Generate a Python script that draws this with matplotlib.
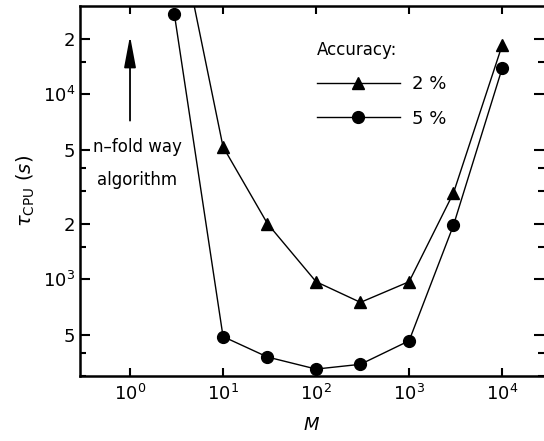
import matplotlib
matplotlib.use("Agg")
import matplotlib.pyplot as plt
from matplotlib.ticker import FixedLocator, FixedFormatter, NullFormatter

# data
M_2 = [3, 10, 30, 100, 300, 1000, 3000, 10000]
tau_2 = [1.0e5, 5200, 2000, 970, 750, 970, 2930, 18400]
M_5 = [3, 10, 30, 100, 300, 1000, 3000, 10000]
tau_5 = [27000, 490, 380, 327, 347, 465, 1960, 13800]

xticks = [1, 10, 100, 1000, 10000]
xlabels = ["$10^{0}$", "$10^{1}$", "$10^{2}$", "$10^{3}$", "$10^{4}$"]
yticks = [500, 1000, 2000, 5000, 10000, 20000]
ylabels = ["5", "$10^{3}$", "2", "5", "$10^{4}$", "2"]
yminor = [300, 400, 1500, 3000, 4000, 15000]

plt.rcParams["font.family"] = "DejaVu Sans"
plt.rcParams["mathtext.fontset"] = "dejavusans"
plt.rcParams["mathtext.default"] = "regular"

fig = plt.figure(figsize=(5.44, 4.41), dpi=100)
ax = fig.add_axes([80 / 544, 65 / 441, 464 / 544, 370 / 441])

ax.plot(M_2, tau_2, "k-", marker="^", ms=8.5, lw=1.0, label="2 %")
ax.plot(M_5, tau_5, "k-", marker="o", ms=8.5, lw=1.0, label="5 %")

ax.set_xscale("log")
ax.set_yscale("log")
ax.set_xlim(0.29, 10 ** 4.45)
ax.set_ylim(300, 30000)

ax.xaxis.set_major_locator(FixedLocator(xticks))
ax.xaxis.set_major_formatter(FixedFormatter(xlabels))
ax.xaxis.set_minor_locator(FixedLocator([]))
ax.yaxis.set_major_locator(FixedLocator(yticks))
ax.yaxis.set_major_formatter(FixedFormatter(ylabels))
ax.yaxis.set_minor_locator(FixedLocator(yminor))
ax.yaxis.set_minor_formatter(NullFormatter())

ax.tick_params(which="both", direction="in", top=True, right=True, labelsize=13, width=1.5)
ax.tick_params(axis="y", which="major", length=7)
ax.tick_params(axis="y", which="minor", length=4)
ax.tick_params(axis="x", which="major", length=6, pad=6)
for s in ["left", "bottom", "top"]:
    ax.spines[s].set_linewidth(1.8)
ax.spines["right"].set_visible(False)

ax.set_xlabel("$\\mathit{M}$", fontsize=13, labelpad=8)
ax.set_ylabel("$\\mathit{\\tau}_{\\rm CPU}\\ (\\mathit{s})$", fontsize=14, labelpad=4)

# arrow for the n-fold way algorithm
ax.annotate("", xy=(1, 21400), xytext=(1, 6960),
            arrowprops=dict(arrowstyle="-|>,head_length=1.6,head_width=0.3",
                            color="k", lw=1.3, mutation_scale=12))
ax.text(1.19, 5170, "n–fold way", ha="center", va="center", fontsize=12)
ax.text(1.19, 3430, "algorithm", ha="center", va="center", fontsize=12)

leg = ax.legend(title="Accuracy:", loc="upper left", bbox_to_anchor=(0.51, 0.905),
                frameon=False, fontsize=13, title_fontsize=12, handlelength=4.6,
                handletextpad=0.7, borderpad=0, borderaxespad=0, labelspacing=0.9,
                alignment="left")

fig.savefig("out.png", dpi=100)
